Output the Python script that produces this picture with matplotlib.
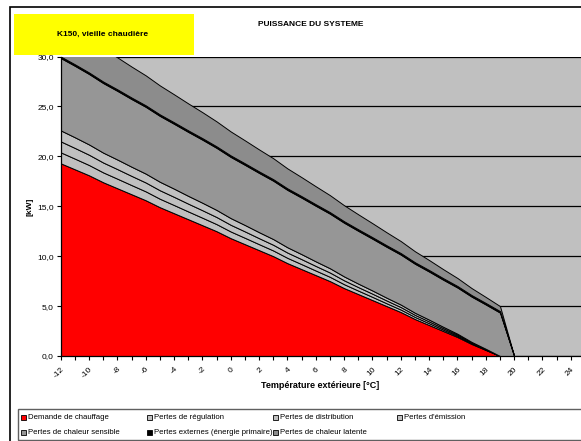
import numpy as np
import matplotlib
matplotlib.use("Agg")
import matplotlib.pyplot as plt
from matplotlib.patches import Rectangle

plt.rcParams['font.family'] = ['Liberation Sans', 'DejaVu Sans']

## categories (outside temperature, °C)
temps = list(range(-12, 26))

## stacked series [kW], one value per temperature
demande = [19.3, 18.7, 18.1, 17.4, 16.8, 16.2, 15.6, 14.9, 14.3, 13.7, 13.1, 12.5, 11.8, 11.2,
           10.6, 10.0, 9.3, 8.7, 8.1, 7.5, 6.8, 6.2, 5.6, 5.0, 4.4, 3.7, 3.1, 2.5, 1.9, 1.2,
           0.6, 0.0, 0, 0, 0, 0, 0, 0]
regulation = [1.10, 1.07, 1.03, 0.99, 0.96, 0.92, 0.89, 0.85, 0.82, 0.78, 0.75, 0.71, 0.67, 0.64,
              0.60, 0.57, 0.53, 0.50, 0.46, 0.43, 0.39, 0.35, 0.32, 0.28, 0.25, 0.21, 0.18, 0.14,
              0.11, 0.07, 0.04, 0.0, 0, 0, 0, 0, 0, 0]
distribution = [1.10, 1.07, 1.03, 0.99, 0.96, 0.92, 0.89, 0.85, 0.82, 0.78, 0.75, 0.71, 0.67, 0.64,
                0.60, 0.57, 0.53, 0.50, 0.46, 0.43, 0.39, 0.35, 0.32, 0.28, 0.25, 0.21, 0.18, 0.14,
                0.11, 0.07, 0.04, 0.0, 0, 0, 0, 0, 0, 0]
emission = [1.10, 1.07, 1.03, 0.99, 0.96, 0.92, 0.89, 0.85, 0.82, 0.78, 0.75, 0.71, 0.67, 0.64,
            0.60, 0.57, 0.53, 0.50, 0.46, 0.43, 0.39, 0.35, 0.32, 0.28, 0.25, 0.21, 0.18, 0.14,
            0.11, 0.07, 0.04, 0.0, 0, 0, 0, 0, 0, 0]
sensible = [7.25, 7.16, 7.06, 6.97, 6.88, 6.78, 6.69, 6.60, 6.50, 6.41, 6.32, 6.22, 6.13, 6.03,
            5.94, 5.85, 5.75, 5.66, 5.57, 5.47, 5.38, 5.29, 5.19, 5.10, 5.01, 4.91, 4.82, 4.72,
            4.63, 4.54, 4.44, 4.35, 0, 0, 0, 0, 0, 0]
externes = [0.15, 0.15, 0.15, 0.15, 0.15, 0.15, 0.15, 0.15, 0.15, 0.15, 0.15, 0.15, 0.15, 0.15,
            0.15, 0.15, 0.15, 0.15, 0.15, 0.15, 0.15, 0.15, 0.15, 0.15, 0.15, 0.15, 0.15, 0.15,
            0.15, 0.15, 0.15, 0.15, 0, 0, 0, 0, 0, 0]
latente = [3.6, 3.5, 3.4, 3.3, 3.2, 3.1, 3.0, 2.9, 2.8, 2.7, 2.6, 2.5, 2.4, 2.3, 2.2, 2.1, 2.0,
           1.9, 1.8, 1.7, 1.6, 1.5, 1.4, 1.3, 1.2, 1.1, 1.0, 0.9, 0.8, 0.7, 0.6, 0.5,
           0, 0, 0, 0, 0, 0]

labels = ["Demande de chauffage", "Pertes de régulation", "Pertes de distribution",
          "Pertes d'émission", "Pertes de chaleur sensible",
          "Pertes externes (énergie primaire)", "Pertes de chaleur latente"]
colors = ['#ff0000', '#c0c0c0', '#c0c0c0', '#c0c0c0', '#969696', '#000000', '#8c8c8c']

W, H = 581, 441
fig = plt.figure(figsize=(W / 100, H / 100), dpi=100)
fig.patch.set_facecolor('white')

def fx(px):
    return px / W

def fy(py):
    return 1 - py / H

## outer chart border
fig.patches.append(Rectangle((fx(10), fy(460)), fx(600) - fx(10), fy(7) - fy(460),
                             transform=fig.transFigure, fill=False, ec='black', lw=1.2))

ax = fig.add_axes([fx(60.7), fy(356), fx(585) - fx(60.7), fy(56.5) - fy(356)])
ax.set_facecolor('#c0c0c0')

series = [demande, regulation, distribution, emission, sensible, externes, latente]
ax.stackplot(temps, *series, colors=colors, edgecolor='black', linewidth=0.7)

ax.set_xlim(-12, 25)
ax.set_ylim(0, 30)
ax.set_yticks(np.arange(0, 31, 5))
ax.set_yticklabels([('%.1f' % v).replace('.', ',') for v in np.arange(0, 31, 5)])
ax.yaxis.grid(True, color='black', lw=0.9)
ax.set_axisbelow(True)

ax.set_xticks(temps)
ax.set_xticklabels([str(t) if t % 2 == 0 else '' for t in temps],
                   rotation=45, ha='right', va='top', rotation_mode='anchor')
ax.tick_params(axis='both', labelsize=6, length=3, width=0.8, color='black', pad=2)
ax.tick_params(axis='x', pad=4)

for s in ['top', 'right']:
    ax.spines[s].set_visible(False)
ax.spines['left'].set_linewidth(0.9)
ax.spines['bottom'].set_linewidth(0.9)

## titles
fig.patches.append(Rectangle((fx(14), fy(55)), fx(194) - fx(14), fy(14) - fy(55),
                             transform=fig.transFigure, fc='#ffff00', ec='none'))
fig.text(fx(103), fy(34), "K150, vieille chaudière", ha='center', va='center',
         fontsize=6, fontweight='bold')
fig.text(fx(311), fy(24), "PUISSANCE DU SYSTEME", ha='center', va='center',
         fontsize=6, fontweight='bold')
fig.text(fx(320), fy(385), "Température extérieure [°C]", ha='center', va='center',
         fontsize=6.5, fontweight='bold')
fig.text(fx(30), fy(207), "[kW]", ha='center', va='center', rotation=90,
         fontsize=6, fontweight='bold')

## legend (drawn by hand to keep Excel's layout)
fig.patches.append(Rectangle((fx(18), fy(440)), fx(600) - fx(18), fy(409) - fy(440),
                             transform=fig.transFigure, fill=False, ec='#606060', lw=1.0))
col_x = [20.5, 146.5, 272.5, 396.5]
row_y = [417.5, 432]
for k in range(len(labels)):
    r, c = divmod(k, 4)
    x0, y0 = col_x[c], row_y[r]
    fig.patches.append(Rectangle((fx(x0), fy(y0 + 2.5)), fx(5) - fx(0), fy(0) - fy(5),
                                 transform=fig.transFigure, fc=colors[k], ec='black', lw=0.6))
    fig.text(fx(x0 + 7.5), fy(y0), labels[k], ha='left', va='center', fontsize=5.6)

fig.savefig('out.png', dpi=100)
